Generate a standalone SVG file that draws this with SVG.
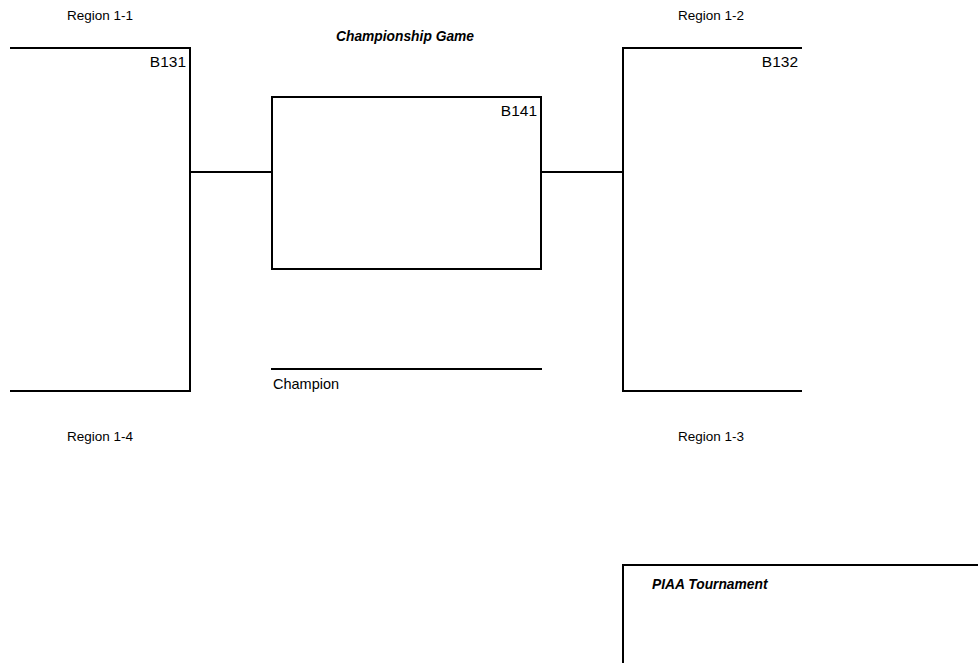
<svg xmlns="http://www.w3.org/2000/svg" width="978" height="663" viewBox="0 0 978 663">
<style>
.ln{stroke:#000;stroke-width:2;fill:none;stroke-linecap:square}
.t{font-family:"Liberation Sans",Arial,sans-serif;fill:#000}
.s{font-size:13.5px}
.m{font-size:15.5px}
.c{font-size:14.5px}
.b{font-size:13.8px;font-weight:bold;font-style:italic}
</style>
<rect width="978" height="663" fill="#fff"/>
<g id="labels">
<text class="t s" x="67" y="20">Region 1-1</text>
<text class="t s" x="678" y="20">Region 1-2</text>
<text class="t s" x="67" y="441">Region 1-4</text>
<text class="t s" x="678" y="441">Region 1-3</text>
<text class="t b" x="405" y="41" text-anchor="middle">Championship Game</text>
</g>
<g id="B131">
<path class="ln" d="M11,48 H190 V391 H11"/>
<text class="t m" x="186" y="67" text-anchor="end">B131</text>
</g>
<g id="B132">
<path class="ln" d="M801,48 H623 V391 H801"/>
<text class="t m" x="798" y="67" text-anchor="end">B132</text>
</g>
<g id="B141">
<rect class="ln" x="272" y="97" width="269" height="172"/>
<text class="t m" x="537" y="116" text-anchor="end">B141</text>
</g>
<g id="champion">
<path class="ln" d="M272,369 H541"/>
<text class="t c" x="273" y="389">Champion</text>
</g>
<g id="piaa">
<path class="ln" d="M978,565 H623 V663"/>
<text class="t b" x="652" y="589">PIAA Tournament</text>
</g>
<g id="connectors">
<path class="ln" d="M190,172 H272"/>
<path class="ln" d="M541,172 H623"/>
</g>
</svg>
